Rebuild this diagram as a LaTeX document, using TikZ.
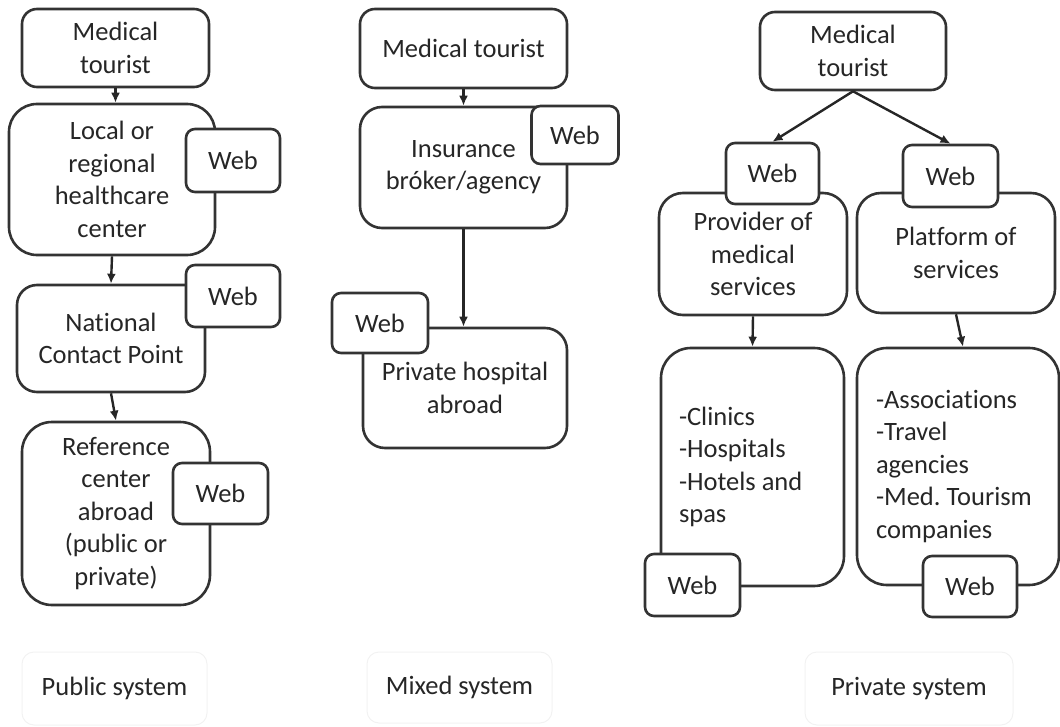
\documentclass[tikz,border=0pt]{standalone}
\usepackage{fontspec}
\setmainfont{Carlito}[Ligatures=NoCommon]
\usetikzlibrary{arrows.meta}

\begin{document}
\begin{tikzpicture}[x=1pt,y=-1pt,>=Latex,
  every node/.style={font=\fontsize{26.5}{32.5}\selectfont,text=black!85},
  wh/.style 2 args={minimum width=#1pt,minimum height=#2pt},
  box/.style={draw=black!80,line width=2.6pt,rounded corners=15pt,align=center,inner sep=0pt},
  web/.style={box,fill=white,rounded corners=9pt},
  sys/.style={draw=black!5,line width=1pt,rounded corners=12pt,inner sep=0pt},
  arr/.style={draw=black!85,line width=2.4pt,-{Latex[length=10pt,width=9pt]}}]
\useasboundingbox (0,0) rectangle (1060,727);

\node[box,wh={187}{78}] (pmt) at (115.5,48) {Medical\\tourist};
\node[box,wh={206}{151},rounded corners=28pt] (plocal) at (112,179.5) {Local or\\regional\\healthcare\\center};
\node[web,wh={94}{63}] (pweb1) at (233,160.5) {Web};
\node[box,wh={188}{107},rounded corners=20pt] (pncp) at (111,338.5) {National\\Contact Point};
\node[web,wh={94}{62}] (pweb2) at (233,296) {Web};
\node[box,wh={188}{183},rounded corners=30pt] (pref) at (116,513.5) {Reference\\center\\abroad\\(public or\\private)};
\node[web,wh={95}{61}] (pweb3) at (220.5,493.5) {Web};
\draw[arr] (pmt.south) -- (pmt.south |- plocal.north);
\draw[arr] (plocal.south) -- (pncp.north);
\draw[arr] (pncp.south) -- (pref.north);

\node[box,wh={207}{79}] (mmt) at (463.5,48.5) {Medical tourist};
\node[box,wh={207}{121},rounded corners=22pt] (mins) at (463.5,167.5) {Insurance\\bróker/agency};
\node[web,wh={87}{58}] (mweb1) at (575,135) {Web};
\node[box,wh={204}{120},rounded corners=22pt] (mhosp) at (465,388) {Private hospital\\abroad};
\node[web,wh={96}{60}] (mweb2) at (380,323) {Web};
\draw[arr] (mmt.south) -- (mins.north);
\draw[arr] (mins.south) -- (mins.south |- mhosp.north);

\node[box,wh={186}{78}] (rmt) at (853,51) {Medical\\tourist};
\node[box,wh={188}{122},rounded corners=24pt] (rprov) at (753,254) {Provider of\\medical\\services};
\node[web,wh={93}{61}] (rwebl) at (772.5,173.5) {Web};
\node[box,wh={198}{120},rounded corners=24pt] (rplat) at (956,253) {Platform of\\services};
\node[web,wh={95}{62}] (rwebr) at (950.5,176) {Web};
\node[box,wh={183}{238},rounded corners=30pt,align=flush left,text width=147pt] (rclin) at (752.5,467) {-Clinics\\-Hospitals\\-Hotels and\\spas};
\node[web,wh={95}{62}] (rwebc) at (692.5,585) {Web};
\node[box,wh={202}{237},rounded corners=30pt,align=flush left,text width=164pt] (rassoc) at (958,466.5) {-Associations\\-Travel\\agencies\\-Med.\ Tourism\\companies};
\node[web,wh={94}{61}] (rweba) at (970,586.5) {Web};
\draw[arr] (rmt.south) -- (rwebl.north);
\draw[arr] (rmt.south) -- (rwebr.north);
\draw[arr] (rprov.south) -- (rclin.north);
\draw[arr] (rplat.south) -- ([xshift=5pt]rassoc.north);

\node[sys,wh={185}{73}] (spub) at (114.5,688.5) {Public system};
\node[sys,wh={185}{71}] (smix) at (459.5,687.5) {Mixed system};
\node[sys,wh={208}{73}] (spriv) at (909,688.5) {Private system};
\end{tikzpicture}
\end{document}
